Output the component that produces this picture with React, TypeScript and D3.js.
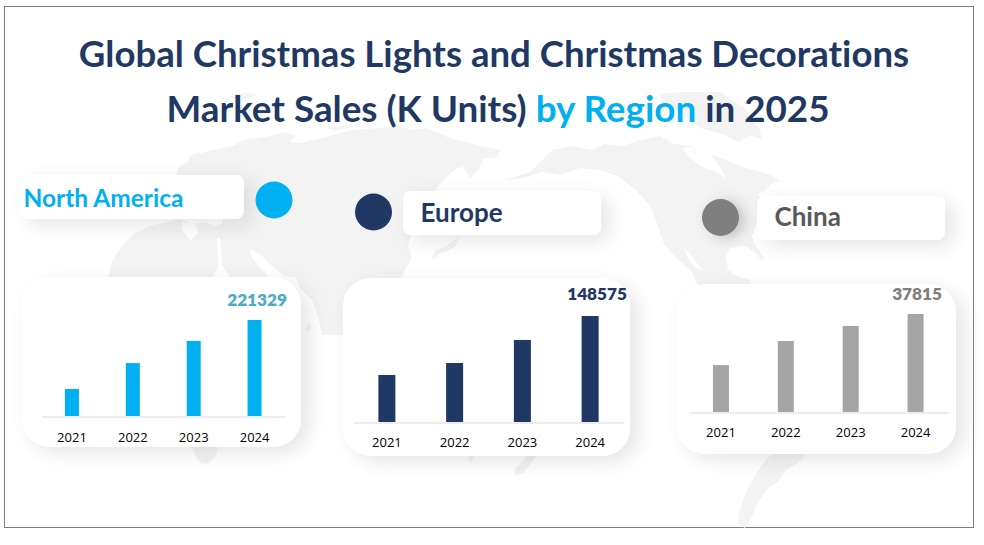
import React, { useEffect, useRef } from "react";
import * as d3 from "d3";

const years = ["2021", "2022", "2023", "2024"];
const northAmericaValues = [62200, 122000, 173000, 221329];
const europeValues = [65900, 82700, 115000, 148575];
const chinaValues = [18100, 27400, 33200, 37815];

const W = 984, H = 545;
const FONT = "Lato, 'Open Sans', sans-serif";
const NAVY = "#1f3864", CYAN = "#00b0f0";

const panels = [
  { key: "na", name: "North America", values: northAmericaValues, fill: "#00b0f0", nameFill: "#00b0f0", valueFill: "#4bacc6",
    card: [22, 277, 279, 170], axis: [41.5, 285], base: 416, top: 320, barW: 14, tickY: 441.5, valueEnd: 287, valueY: 305.5,
    label: [20, 175, 224, 44], nameX: 23.5, nameY: 206.5, nameSize: 24.5, dot: [274, 200] },
  { key: "eu", name: "Europe", values: europeValues, fill: NAVY, nameFill: NAVY, valueFill: NAVY,
    card: [343, 278, 287, 178], axis: [353, 624], base: 422, top: 316, barW: 17, tickY: 446.5, valueEnd: 627, valueY: 300,
    label: [403, 191, 198, 44], nameX: 420.5, nameY: 221.5, nameSize: 26, dot: [373.5, 212] },
  { key: "cn", name: "China", values: chinaValues, fill: "#a5a5a5", nameFill: "#595959", valueFill: "#7f7f7f",
    card: [677, 284, 279, 170], axis: [688.5, 948], base: 412, top: 314, barW: 16, tickY: 436.5, valueEnd: 942, valueY: 300,
    label: [757, 196, 188, 44], nameX: 774.5, nameY: 226, nameSize: 26, dot: [720.5, 217.5] },
];

const eurasiaOutline: [number, number][] = [
  [107,280],[112,262],[122,246],[134,234],[150,226],[168,222],[180,219],[193,224],[205,222],[214,226],[222,224],[224,214],[212,206],[196,206],[190,198],[182,196],[178,188],[190,184],[186,176],[176,178],[178,168],[190,160],[204,152],[222,148],[232,146],[244,140],[270,136],[285,132],[296,136],[290,142],[300,143],[330,136],[352,130],[378,128],[400,126],[412,130],[426,128],[450,138],[480,146],[500,150],[496,158],[484,158],[478,170],[470,178],[462,166],[452,172],[440,184],[430,198],[414,208],[420,222],[412,232],[408,246],[412,258],[404,272],[398,282],[384,292],[372,296],[345,300],[345,335],[322,335],[318,316],[312,300],[300,288],[296,278],[284,276],[272,266],[262,256],[252,250],[256,264],[268,276],[262,282],[244,296],[232,280],[220,262],[212,280],[107,280],
];
const africaTip: [number, number][] = [[190,440],[218,440],[216,456],[208,464],[200,463],[194,452]];
const madagascar: [number, number][] = [[308,322],[311,326],[310,332],[306,330]];
const japan: [number, number][] = [[432,258],[436,250],[446,246],[454,240],[458,238],[456,246],[446,252],[438,254],[433,260]];
const svalbard: [number, number][] = [[230,96],[245,93],[258,94],[248,99],[236,100]];
const siberianIsles: [number, number][] = [[328,128],[345,125],[352,127],[336,131]];
const arctic: [number, number][] = [[190,156],[200,152],[205,160],[196,166],[186,168]];
const greenland: [number, number][] = [[660,94],[680,92],[720,92],[745,108],[760,130],[762,140],[750,135],[738,142],[722,134],[700,128],[680,112],[664,104]];
const northAmericaOutline: [number, number][] = [
  [506,180],[530,172],[552,150],[572,146],[592,150],[604,144],[622,146],[640,140],[660,136],[674,144],[690,146],[704,152],[726,160],[745,168],[762,172],[772,176],[780,181],[770,184],[766,190],[758,194],[764,202],[758,210],[756,224],[752,236],[756,246],[764,258],[762,260],[754,252],[744,246],[730,248],[726,256],[728,270],[736,276],[750,280],[750,290],[700,290],[692,272],[676,258],[664,244],[658,226],[650,206],[636,190],[618,176],[600,170],[580,168],[560,175],[542,172],[524,178],
];
const southAmericaTip: [number, number][] = [[776,450],[808,450],[800,462],[786,470],[778,482],[768,488],[758,502],[752,516],[745,528],[738,524],[740,510],[746,492],[756,474],[764,462]];
const smallIslands: [number, number][] = [[467,450],[474,450],[473,458],[470,464]];
const newGuinea: [number, number][] = [[530,450],[540,452],[532,462],[524,472],[516,476],[514,470],[522,462]];
const landShapes = [eurasiaOutline, africaTip, madagascar, svalbard, siberianIsles, arctic, greenland, northAmericaOutline, southAmericaTip, smallIslands, newGuinea, japan];

const hudsonBay: [number, number][] = [[682,148],[700,146],[712,156],[722,170],[726,178],[716,172],[700,166],[690,158]];
const baja: [number, number][] = [[684,248],[692,256],[702,270],[696,268],[688,258]];
const gulf: [number, number][] = [[728,252],[744,246],[756,254],[760,264],[744,270],[734,272],[728,264]];
const redSea: [number, number][] = [[217,238],[220,238],[222,262],[219,270],[218,256]];
const persianGulf: [number, number][] = [[250,250],[256,252],[262,262],[258,264],[252,258]];
const caspian: [number, number][] = [[182,222],[196,224],[198,234],[190,240],[182,230]];
const seaShapes = [hudsonBay, baja, gulf, redSea, persianGulf, caspian];

const mapLine = d3.line<[number, number]>().x(d => d[0]).y(d => d[1]).curve(d3.curveLinearClosed);

function Panel({ p }: { p: (typeof panels)[number] }) {
  const axisRef = useRef<SVGGElement>(null);
  const x = d3.scaleBand<string>().domain(years).range(p.axis as [number, number]);
  const maxV = d3.max(p.values) as number;
  const y = d3.scaleLinear().domain([0, maxV]).range([p.base, p.top]);

  useEffect(() => {
    if (!axisRef.current) return;
    const g = d3.select(axisRef.current);
    g.call(d3.axisBottom(x).tickSize(0).tickPadding(0) as any);
    g.select(".domain").attr("stroke", "#d9d9d9").attr("stroke-width", 1);
    g.selectAll("text")
      .attr("y", p.tickY - p.base - 0.5)
      .attr("dy", 0)
      .attr("fill", "#000")
      .attr("font-size", 13)
      .attr("font-family", "'Open Sans', sans-serif");
  }, []);

  return (
    <g>
      <rect x={p.card[0]} y={p.card[1]} width={p.card[2]} height={p.card[3]} rx={28} fill="#fff" filter="url(#cardShadow)" />
      {p.values.map((v, i) => (
        <rect key={i}
          x={(x(years[i]) as number) + x.bandwidth() / 2 - p.barW / 2}
          y={y(v)} width={p.barW} height={y(0) - y(v)} fill={p.fill} />
      ))}
      <g ref={axisRef} transform={`translate(0,${p.base + 0.5})`} />
      <text x={p.valueEnd} y={p.valueY} textAnchor="end" fontFamily={FONT} fontWeight={800} fontSize={17.2} fill={p.valueFill}>
        {p.values[3]}
      </text>
      <rect x={p.label[0]} y={p.label[1]} width={p.label[2]} height={p.label[3]} rx={8} fill="#fff" filter="url(#cardShadow)" />
      <text x={p.nameX} y={p.nameY} fontFamily={FONT} fontWeight={700} fontSize={p.nameSize} fill={p.nameFill}>{p.name}</text>
      <circle cx={p.dot[0]} cy={p.dot[1]} r={18.5} fill={p.key === "cn" ? "#7f7f7f" : p.fill} filter={p.key === "cn" ? "url(#dotShadow)" : undefined} />
    </g>
  );
}

export default function App() {
  return (
    <svg width={W} height={H} viewBox={`0 0 ${W} ${H}`} style={{ position: "absolute", left: 0, top: 0, display: "block", background: "#fff", fontVariantLigatures: "none" }}>
      <defs>
        <filter id="cardShadow" x="-30%" y="-50%" width="160%" height="200%">
          <feDropShadow dx={8} dy={6} stdDeviation={10} floodColor="#000" floodOpacity={0.1} />
        </filter>
        <filter id="dotShadow" x="-60%" y="-60%" width="220%" height="220%">
          <feDropShadow dx={6} dy={2} stdDeviation={7} floodColor="#000" floodOpacity={0.2} />
        </filter>
      </defs>
      <rect x={4.5} y={6.5} width={969} height={521} fill="#fff" stroke="#7f7f7f" strokeWidth={1} />
      <g>
        {landShapes.map((s, i) => <path key={i} d={mapLine(s) as string} fill="#f3f3f3" />)}
        {seaShapes.map((s, i) => <path key={i} d={mapLine(s) as string} fill="#fff" />)}
      </g>
      <text x={494} y={67} textAnchor="middle" fontFamily={FONT} fontWeight={700} fontSize={36.6} fill={NAVY}>
        Global Christmas Lights and Christmas Decorations
      </text>
      <text x={498} y={122} textAnchor="middle" fontFamily={FONT} fontWeight={700} fontSize={36.8} fill={NAVY}>
        Market Sales (K Units) <tspan fill={CYAN}>by Region</tspan> in 2025
      </text>
      {panels.map(p => <Panel key={p.key} p={p} />)}
    </svg>
  );
}
